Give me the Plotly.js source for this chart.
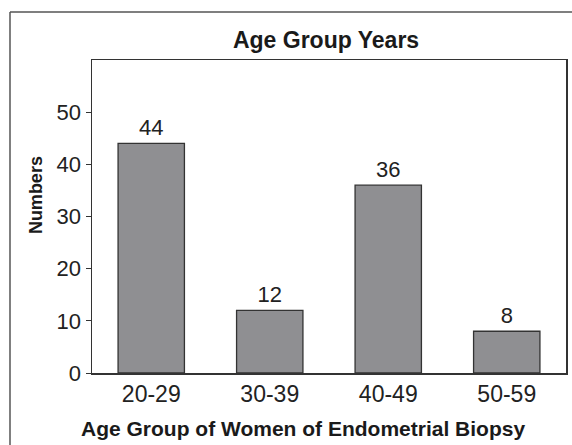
<!DOCTYPE html>
<html>
<head>
<meta charset="utf-8">
<script src="https://cdn.plot.ly/plotly-3.0.1.min.js"></script>
<style>
html, body { margin: 0; padding: 0; background: #fff; overflow: hidden; }
#chart { width: 572px; height: 445px; }
</style>
</head>
<body>
<div id="chart"></div>
<script>
var categories = ["20-29", "30-39", "40-49", "50-59"];
var counts = [44, 12, 36, 8];
var yTickValues = [0, 10, 20, 30, 40, 50];
var chartTitle = "Age Group Years";
var xTitle = "Age Group of Women of Endometrial Biopsy";
var yTitle = "Numbers";

var trace = {
  type: "bar",
  x: categories,
  y: counts,
  text: counts.map(String),
  textposition: "outside",
  cliponaxis: false,
  textfont: { family: "Liberation Sans, Arial, sans-serif", size: 22, color: "#222" },
  marker: { color: "#8f8f92", line: { color: "#333", width: 1.3 } },
  hoverinfo: "x+y"
};

var frameLine = { color: "#555", width: 1.5 };

var layout = {
  width: 572,
  height: 445,
  margin: { l: 92, r: 6, t: 60, b: 72 },
  paper_bgcolor: "#fff",
  plot_bgcolor: "#fff",
  bargap: 0.44,
  showlegend: false,
  font: { family: "Liberation Sans, Arial, sans-serif", color: "#222" },
  title: {
    text: chartTitle,
    font: { family: "Liberation Sans, Arial, sans-serif", size: 23, color: "#1a1a1a", weight: "bold" },
    x: 0.57, xanchor: "center",
    y: 1 - 40 / 445, yanchor: "middle"
  },
  xaxis: {
    type: "category",
    showline: true, linecolor: "#333", linewidth: 1.5, mirror: true,
    ticks: "", showgrid: false, zeroline: false,
    tickfont: { size: 23, color: "#222" }
  },
  yaxis: {
    range: [0, 60],
    tickvals: yTickValues,
    showline: true, linecolor: "#333", linewidth: 1.5, mirror: true,
    ticks: "outside", ticklen: 5, tickcolor: "#333", tickwidth: 1,
    showgrid: false, zeroline: false,
    tickfont: { size: 22, color: "#222" }
  },
  annotations: [
    {
      text: xTitle, xref: "paper", yref: "paper",
      x: 0.445, y: -0.176, xanchor: "center", yanchor: "middle",
      showarrow: false,
      font: { family: "Liberation Sans, Arial, sans-serif", size: 21, color: "#1a1a1a", weight: "bold" }
    },
    {
      text: yTitle, xref: "paper", yref: "paper",
      x: -0.119, y: 0.567, xanchor: "center", yanchor: "middle",
      textangle: -90, showarrow: false,
      font: { family: "Liberation Sans, Arial, sans-serif", size: 18, color: "#1a1a1a", weight: "bold" }
    }
  ],
  shapes: [
    {
      type: "line", xref: "paper", yref: "paper",
      x0: -0.173, x1: -0.173, y0: -0.3, y1: 1.1534,
      line: frameLine, layer: "below"
    },
    {
      type: "line", xref: "paper", yref: "paper",
      x0: -0.173, x1: 1.1, y0: 1.1534, y1: 1.1534,
      line: frameLine, layer: "below"
    }
  ]
};

Plotly.newPlot("chart", [trace], layout, { displayModeBar: false, staticPlot: true });
</script>
</body>
</html>
